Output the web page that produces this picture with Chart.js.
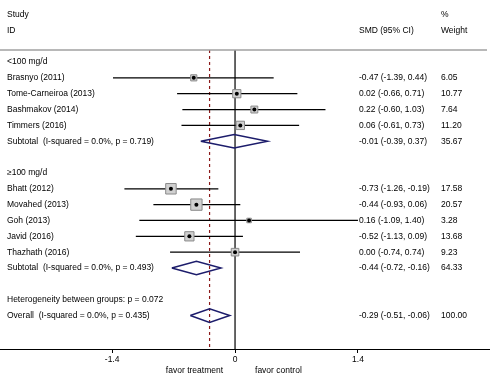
<!DOCTYPE html>
<html>
<head>
<meta charset="utf-8">
<script src="https://cdn.jsdelivr.net/npm/chart.js@4.4.1/dist/chart.umd.min.js"></script>
<style>
    html, body { margin: 0; padding: 0; background: #fff; }
    #wrap { width: 490px; height: 381px; }
</style>
</head>
<body>
<div id="wrap"><canvas id="forest"></canvas></div>
<script>
'use strict';

// Individual studies
const studies = ['Brasnyo (2011)', 'Tome-Carneiroa (2013)', 'Bashmakov (2014)', 'Timmers (2016)',
    'Bhatt (2012)', 'Movahed (2013)', 'Goh (2013)', 'Javid (2016)', 'Thazhath (2016)'];
const studyRows = [1, 2, 3, 4, 8, 9, 10, 11, 12];
const smd = [-0.47, 0.02, 0.22, 0.06, -0.73, -0.44, 0.16, -0.52, 0.00];
const lower = [-1.39, -0.66, -0.60, -0.61, -1.26, -0.93, -1.09, -1.13, -0.74];
const upper = [0.44, 0.71, 1.03, 0.73, -0.19, 0.06, 1.40, 0.09, 0.74];
const weights = [6.05, 10.77, 7.64, 11.20, 17.58, 20.57, 3.28, 13.68, 9.23];

// Pooled estimates (subtotals + overall)
const pooledLabels = ['Subtotal  (I-squared = 0.0%, p = 0.719)', 'Subtotal  (I-squared = 0.0%, p = 0.493)',
    'Overall  (I-squared = 0.0%, p = 0.435)'];
const pooledRows = [5, 13, 16];
const pooledSmd = [-0.01, -0.44, -0.29];
const pooledLower = [-0.39, -0.72, -0.51];
const pooledUpper = [0.37, -0.16, -0.06];
const pooledWeights = [35.67, 64.33, 100.00];

// Group headings and other text rows
const groupLabels = ['<100 mg/d', '\u2265100 mg/d', 'Heterogeneity between groups: p = 0.072'];
const groupRows = [0, 7, 15];

// Axis
const tickValues = [-1.4, 0, 1.4];
const tickLabels = ['-1.4', '0', '1.4'];
const overallSmd = -0.29;

const FONT = '"Liberation Sans", Arial, sans-serif';
const FONT_SIZE = 8.5;
const Y_MIN = -0.757, Y_MAX = 18.11;

const fmt = v => v.toFixed(2);

// CI whiskers, one small line dataset per study
const ciSets = studies.map((s, i) => ({
    type: 'scatter',
    showLine: true,
    order: 3,
    data: [{ x: lower[i], y: studyRows[i] }, { x: upper[i], y: studyRows[i] }],
    borderColor: '#000',
    borderWidth: 1.2,
    pointRadius: 0
}));

// Diamonds for pooled estimates
const DH = 0.43;
const diamondSets = pooledSmd.map((m, i) => ({
    type: 'scatter',
    showLine: true,
    order: 1,
    data: [
        { x: pooledLower[i], y: pooledRows[i] },
        { x: m, y: pooledRows[i] - DH },
        { x: pooledUpper[i], y: pooledRows[i] },
        { x: m, y: pooledRows[i] + DH },
        { x: pooledLower[i], y: pooledRows[i] }
    ],
    borderColor: '#1c1c6b',
    borderWidth: 1.5,
    pointRadius: 0,
    fill: false
}));

const refLines = [
    {
        type: 'scatter', showLine: true, order: 4,
        data: [{ x: 0, y: Y_MIN }, { x: 0, y: Y_MAX }],
        borderColor: '#000', borderWidth: 1.2, pointRadius: 0
    },
    {
        type: 'scatter', showLine: true, order: 4,
        data: [{ x: overallSmd, y: Y_MIN }, { x: overallSmd, y: Y_MAX }],
        borderColor: '#8b1a1a', borderWidth: 1.2, borderDash: [3, 3], pointRadius: 0
    }
];

// Weight boxes (side ~ sqrt(weight))
const boxSet = {
    type: 'scatter',
    order: 2,
    data: smd.map((m, i) => ({ x: m, y: studyRows[i] })),
    pointStyle: 'rect',
    pointRadius: ctx => 2.5 * Math.sqrt(weights[ctx.dataIndex]) / Math.SQRT2,
    backgroundColor: '#d0d0d0',
    borderColor: '#8a8a8a',
    borderWidth: 1
};

// Point estimate markers on top of the boxes
const dotSet = {
    type: 'scatter',
    order: 0,
    data: smd.map((m, i) => ({ x: m, y: studyRows[i] })),
    pointStyle: 'circle',
    pointRadius: 2,
    backgroundColor: '#000',
    borderColor: '#000',
    borderWidth: 0
};

// Text columns, header rule and axis captions
const textPlugin = {
    id: 'forestText',
    afterDraw(chart) {
        const ctx = chart.ctx;
        const y = chart.scales.y;
        const x = chart.scales.x;
        const area = chart.chartArea;
        ctx.save();
        ctx.fillStyle = '#000';
        ctx.font = FONT_SIZE + 'px ' + FONT;
        ctx.textBaseline = 'middle';
        ctx.textAlign = 'left';

        const put = (txt, px, row) => ctx.fillText(txt, px, y.getPixelForValue(row));

        // headers
        put('Study', 7, -3);
        put('ID', 7, -2);
        put('SMD (95% CI)', 359, -2);
        put('%', 441, -3);
        put('Weight', 441, -2);

        groupLabels.forEach((g, i) => put(g, 7, groupRows[i]));

        studies.forEach((s, i) => {
            put(s, 7, studyRows[i]);
            put(fmt(smd[i]) + ' (' + fmt(lower[i]) + ', ' + fmt(upper[i]) + ')', 359, studyRows[i]);
            put(fmt(weights[i]), 441, studyRows[i]);
        });

        pooledLabels.forEach((s, i) => {
            put(s, 7, pooledRows[i]);
            put(fmt(pooledSmd[i]) + ' (' + fmt(pooledLower[i]) + ', ' + fmt(pooledUpper[i]) + ')', 359, pooledRows[i]);
            put(fmt(pooledWeights[i]), 441, pooledRows[i]);
        });

        // header rule
        ctx.strokeStyle = '#a0a0a0';
        ctx.lineWidth = 1.5;
        ctx.beginPath();
        ctx.moveTo(0, area.top);
        ctx.lineTo(487, area.top);
        ctx.stroke();

        // favour captions under the axis
        const zero = x.getPixelForValue(0);
        ctx.textAlign = 'right';
        ctx.fillText('favor treatment', zero - 12, 371);
        ctx.textAlign = 'left';
        ctx.fillText('favor control', zero + 20, 371);
        ctx.restore();
    }
};

new Chart(document.getElementById('forest'), {
    type: 'scatter',
    data: {
        datasets: [...refLines, ...ciSets, boxSet, dotSet, ...diamondSets]
    },
    options: {
        responsive: true,
        maintainAspectRatio: false,
        animation: false,
        layout: { autoPadding: false, padding: { top: 50, bottom: 0, left: 0, right: 0 } },
        plugins: {
            legend: { display: false },
            tooltip: { enabled: false }
        },
        scales: {
            x: {
                type: 'linear',
                min: -2.677,
                max: 2.904,
                afterBuildTicks: scale => { scale.ticks = tickValues.map(v => ({ value: v })); },
                afterFit: scale => { scale.height = 32; },
                border: { display: true, color: '#000', width: 1 },
                grid: { display: true, drawOnChartArea: false, drawTicks: true, tickLength: 4, color: '#000' },
                ticks: {
                    autoSkip: false,
                    maxRotation: 0,
                    padding: 2,
                    color: '#000',
                    font: { family: FONT, size: FONT_SIZE },
                    callback: (v) => tickLabels[tickValues.indexOf(v)]
                }
            },
            y: {
                type: 'linear',
                reverse: true,
                min: Y_MIN,
                max: Y_MAX,
                display: false
            }
        }
    },
    plugins: [textPlugin]
});
</script>
</body>
</html>
